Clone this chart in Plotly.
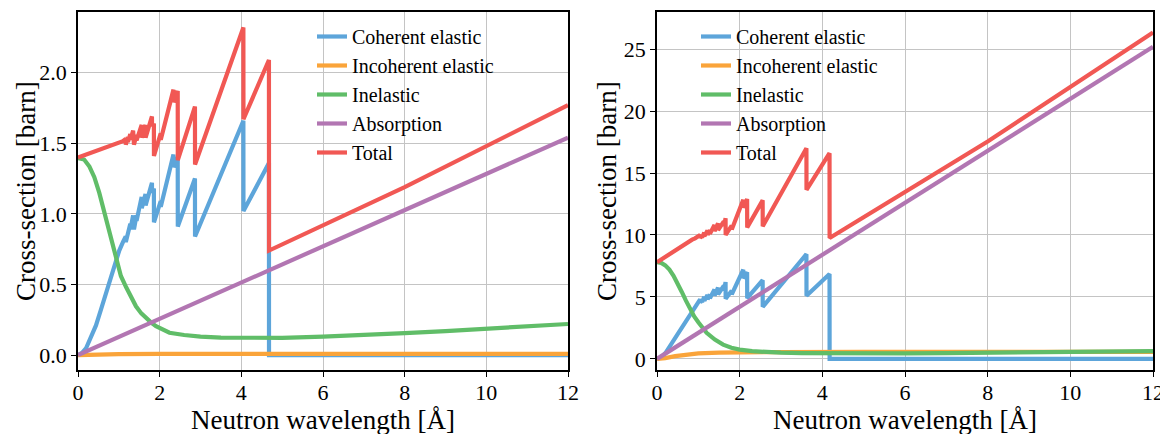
import plotly.graph_objects as go

# ---------------- Left panel (aluminium-like) ----------------
coh_L_x = [0, 0.1, 0.2, 0.3, 0.44, 0.56, 0.69, 0.80, 0.89, 1.01, 1.10,
           1.169, 1.171, 1.221, 1.223, 1.281, 1.283, 1.350, 1.352,
           1.369, 1.371, 1.432, 1.434, 1.559, 1.561, 1.653, 1.655,
           1.811, 1.813, 1.858, 1.860, 2.025, 2.027, 2.338, 2.340,
           2.442, 2.444, 2.864, 2.866, 4.050, 4.052, 4.676, 4.678, 8.0, 12]
coh_L_y = [0, 0.015, 0.05, 0.11, 0.21, 0.32, 0.44, 0.55, 0.63, 0.74, 0.80,
           0.84, 0.80, 0.87, 0.84, 0.93, 0.89, 0.99, 0.93,
           0.95, 0.89, 0.99, 0.95, 1.12, 1.04, 1.14, 1.06,
           1.22, 1.15, 1.18, 0.94, 1.09, 1.05, 1.42, 1.33,
           1.40, 0.91, 1.25, 0.84, 1.66, 1.02, 1.36, 0.0, 0.0, 0.0]
tot_L_y = [1.40, 1.41, 1.42, 1.43, 1.445, 1.455, 1.47, 1.48, 1.49, 1.50, 1.515,
           1.53, 1.49, 1.545, 1.51, 1.565, 1.525, 1.59, 1.52,
           1.535, 1.49, 1.56, 1.52, 1.63, 1.54, 1.63, 1.54,
           1.69, 1.62, 1.64, 1.41, 1.57, 1.525, 1.88, 1.79,
           1.87, 1.38, 1.76, 1.35, 2.32, 1.67, 2.09, 0.74, 1.19, 1.77]

inel_L_x = [0, 0.15, 0.28, 0.40, 0.52, 0.65, 0.77, 0.93, 1.05, 1.18, 1.30,
            1.42, 1.55, 1.67, 1.80, 1.91, 2.10, 2.24, 2.60, 3.0, 3.5, 4.2,
            5.0, 6.0, 7.0, 8.0, 9.0, 10.0, 11.0, 12.0]
inel_L_y = [1.395, 1.385, 1.335, 1.26, 1.15, 1.00, 0.86, 0.67, 0.56, 0.48, 0.41,
            0.345, 0.295, 0.258, 0.228, 0.205, 0.175, 0.158, 0.142, 0.130, 0.123, 0.120,
            0.122, 0.130, 0.140, 0.155, 0.170, 0.185, 0.200, 0.220]

inc_L_x = [0, 0.3, 0.6, 1.0, 2.0, 12.0]
inc_L_y = [0, 0.003, 0.006, 0.007, 0.008, 0.008]

abs_L_x = [0, 12]
abs_L_y = [0, 1.54]

# ---------------- Right panel (copper-like) ----------------
coh_R_x = [0, 0.1, 0.2, 0.3, 0.36, 0.5, 0.64, 0.76, 0.85, 0.92, 1.0,
           1.044, 1.046, 1.090, 1.092, 1.143, 1.145, 1.222, 1.224,
           1.278, 1.280, 1.391, 1.393, 1.476, 1.478, 1.617, 1.619,
           1.659, 1.661, 1.807, 1.809, 2.087, 2.089, 2.180, 2.182,
           2.556, 2.558, 3.615, 3.617, 4.174, 4.176, 8.0, 12]
coh_R_y = [0, 0.12, 0.45, 0.90, 1.27, 2.00, 2.75, 3.40, 3.90, 4.25, 4.55,
           4.80, 4.55, 4.75, 4.60, 5.00, 4.70, 5.15, 4.80,
           5.20, 4.90, 5.60, 5.10, 5.75, 5.20, 5.90, 5.50,
           6.20, 4.85, 5.50, 5.20, 7.20, 6.50, 7.00, 4.90,
           6.35, 4.20, 8.45, 5.10, 6.85, 0.0, 0.0, 0.0]
tot_R_y = [7.80, 8.02, 8.24, 8.46, 8.60, 8.90, 9.20, 9.47, 9.62, 9.73, 9.85,
           10.00, 9.75, 9.95, 9.80, 10.20, 9.90, 10.35, 10.00,
           10.40, 10.10, 10.80, 10.30, 10.95, 10.40, 11.10, 10.70,
           11.35, 10.00, 10.75, 10.45, 12.85, 12.20, 12.90, 10.60,
           12.80, 10.70, 17.00, 13.65, 16.60, 9.75, 17.55, 26.35]

inel_R_x = [0, 0.1, 0.2, 0.3, 0.4, 0.5, 0.6, 0.7, 0.8, 0.9, 1.0, 1.1, 1.2,
            1.4, 1.6, 1.8, 2.0, 2.3, 2.6, 3.0, 3.5, 4.0, 5.0, 6.0, 7.0,
            8.0, 9.0, 10.0, 11.0, 12.0]
inel_R_y = [7.80, 7.75, 7.55, 7.20, 6.70, 6.10, 5.40, 4.70, 4.00, 3.42, 2.95, 2.50, 2.10,
            1.55, 1.15, 0.90, 0.75, 0.62, 0.55, 0.50, 0.47, 0.45, 0.44, 0.45, 0.47,
            0.50, 0.53, 0.56, 0.59, 0.62]

inc_R_x = [0, 0.2, 0.44, 0.7, 1.0, 1.5, 2.0, 3.0, 5.0, 12.0]
inc_R_y = [0, 0.06, 0.22, 0.35, 0.44, 0.51, 0.54, 0.55, 0.56, 0.57]

abs_R_x = [0, 12]
abs_R_y = [0, 25.2]

# ---------------- Styling ----------------
names = ["Coherent elastic", "Incoherent elastic", "Inelastic", "Absorption", "Total"]
colors = ["#5DA5DA", "#FAA43A", "#60BD68", "#B276B2", "#F15854"]
FONT = "Liberation Serif"
LW = 4.2

fig = go.Figure()

left = [(coh_L_x, coh_L_y), (inc_L_x, inc_L_y), (inel_L_x, inel_L_y),
        (abs_L_x, abs_L_y), (coh_L_x, tot_L_y)]
right = [(coh_R_x, coh_R_y), (inc_R_x, inc_R_y), (inel_R_x, inel_R_y),
         (abs_R_x, abs_R_y), (coh_R_x, tot_R_y)]

for i, (x, y) in enumerate(left):
    fig.add_trace(go.Scatter(x=x, y=y, mode="lines", name=names[i],
                             line=dict(color=colors[i], width=LW),
                             xaxis="x", yaxis="y", legend="legend"))
for i, (x, y) in enumerate(right):
    fig.add_trace(go.Scatter(x=x, y=y, mode="lines", name=names[i],
                             line=dict(color=colors[i], width=LW),
                             xaxis="x2", yaxis="y2", legend="legend2"))

# page body has an 8 px margin: figure occupies screen x 8..1168, y 8..434
OFF = 8
W, H = 1160, 426


def fx(px):
    return (px - OFF) / W


def fy(py):
    return 1 - (py - OFF) / H


yd = [fy(370), fy(12)]

axis_common = dict(showline=True, linecolor="black", linewidth=1.6, mirror=True,
                   ticks="outside", ticklen=5, tickwidth=1.3, tickcolor="black",
                   showgrid=True, gridcolor="#c4c4c4", gridwidth=1,
                   zeroline=False, automargin=False,
                   tickfont=dict(family=FONT, size=22, color="black"))

fig.update_layout(
    width=W, height=H,
    margin=dict(l=0, r=0, t=0, b=0),
    paper_bgcolor="white", plot_bgcolor="white",
    font=dict(family=FONT, color="black"),
    xaxis=dict(domain=[fx(78), fx(568)], range=[0, 12], tickvals=[0, 2, 4, 6, 8, 10, 12],
               anchor="y", ticklabelstandoff=-3, **axis_common),
    yaxis=dict(domain=yd, range=[-0.106, 2.43], tickvals=[0, 0.5, 1.0, 1.5, 2.0],
               tickformat=".1f", anchor="x", **axis_common),
    xaxis2=dict(domain=[fx(657), fx(1153)], range=[0, 12], tickvals=[0, 2, 4, 6, 8, 10, 12],
                anchor="y2", ticklabelstandoff=-3, **axis_common),
    yaxis2=dict(domain=yd, range=[-0.9, 28.0], tickvals=[0, 5, 10, 15, 20, 25],
                anchor="x2", **axis_common),
    legend=dict(x=fx(312), y=fy(17), xanchor="left", yanchor="top",
                bgcolor="rgba(0,0,0,0)", borderwidth=0,
                font=dict(family=FONT, size=20, color="black"), tracegroupgap=0),
    legend2=dict(x=fx(696), y=fy(17), xanchor="left", yanchor="top",
                 bgcolor="rgba(0,0,0,0)", borderwidth=0,
                 font=dict(family=FONT, size=20, color="black"), tracegroupgap=0),
    showlegend=True,
)

# axis titles
tfont = dict(family=FONT, size=27, color="black")
for cx in (fx(323), fx(905)):
    fig.add_annotation(text="Neutron wavelength [Å]", xref="paper", yref="paper",
                       x=cx, y=fy(420), xanchor="center", yanchor="middle",
                       showarrow=False, font=tfont)
for cx in (fx(26), fx(607)):
    fig.add_annotation(text="Cross-section [barn]", xref="paper", yref="paper",
                       x=cx, y=fy(191), xanchor="center", yanchor="middle",
                       textangle=-90, showarrow=False, font=tfont)

fig.write_html("out.html")
